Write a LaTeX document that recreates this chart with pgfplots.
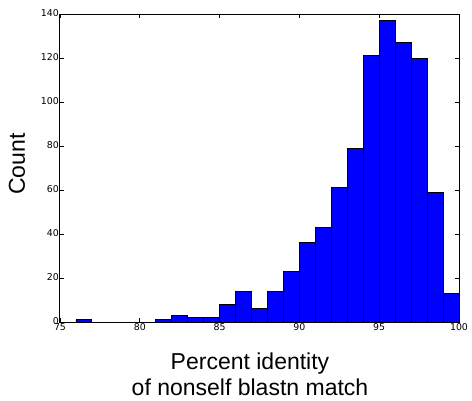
\documentclass[border=0pt]{standalone}
\usepackage{pgfplots}
\pgfplotsset{compat=1.18}
\usepackage{fontspec}
\setmainfont{Liberation Sans}
\newfontfamily\tickfont{DejaVu Sans}

% Histogram of percent identity, one-unit bins; each row is a bin's left edge and its count
\pgfplotstableread{
x    count
76   1
77   0
78   0
79   0
80   0
81   1
82   3
83   2
84   2
85   8
86   14
87   6
88   14
89   23
90   36
91   43
92   61
93   79
94   121
95   137
96   127
97   120
98   59
99   13
100  13
}\identity

\begin{document}
\begin{tikzpicture}[x=1pt,y=1pt]
\useasboundingbox (0,0) rectangle (472,400);
\begin{axis}[
  at={(60pt,78pt)}, anchor=south west,
  width=399pt, height=308pt, scale only axis,
  xmin=75, xmax=100, ymin=0, ymax=140,
  xtick={75,80,85,90,95,100},
  ytick={0,20,40,60,80,100,120,140},
  tick align=inside,
  major tick length=4pt,
  minor tick num=0,
  axis line style={line width=1pt, black},
  every tick/.style={black, line width=0.8pt},
  tick label style={font=\tickfont\fontsize{9.4}{11}\selectfont},
  /pgf/number format/assume math mode=true,
  xticklabel style={inner sep=1pt, yshift=-0.5pt},
  yticklabel style={inner sep=1pt, yshift=0.8pt},
  clip=false,
]
\addplot[ybar interval, fill={rgb,255:red,0;green,0;blue,255}, draw=black, line width=0.9pt]
  table[x=x, y=count] {\identity};
\end{axis}
\node[font=\fontsize{23}{26}\selectfont, rotate=90] at (17,236) {Count};
\node[font=\fontsize{23}{26}\selectfont, anchor=base] at (250,31) {Percent identity};
\node[font=\fontsize{23}{26}\selectfont, anchor=base] at (250,5) {of nonself blastn match};
\end{tikzpicture}
\end{document}
